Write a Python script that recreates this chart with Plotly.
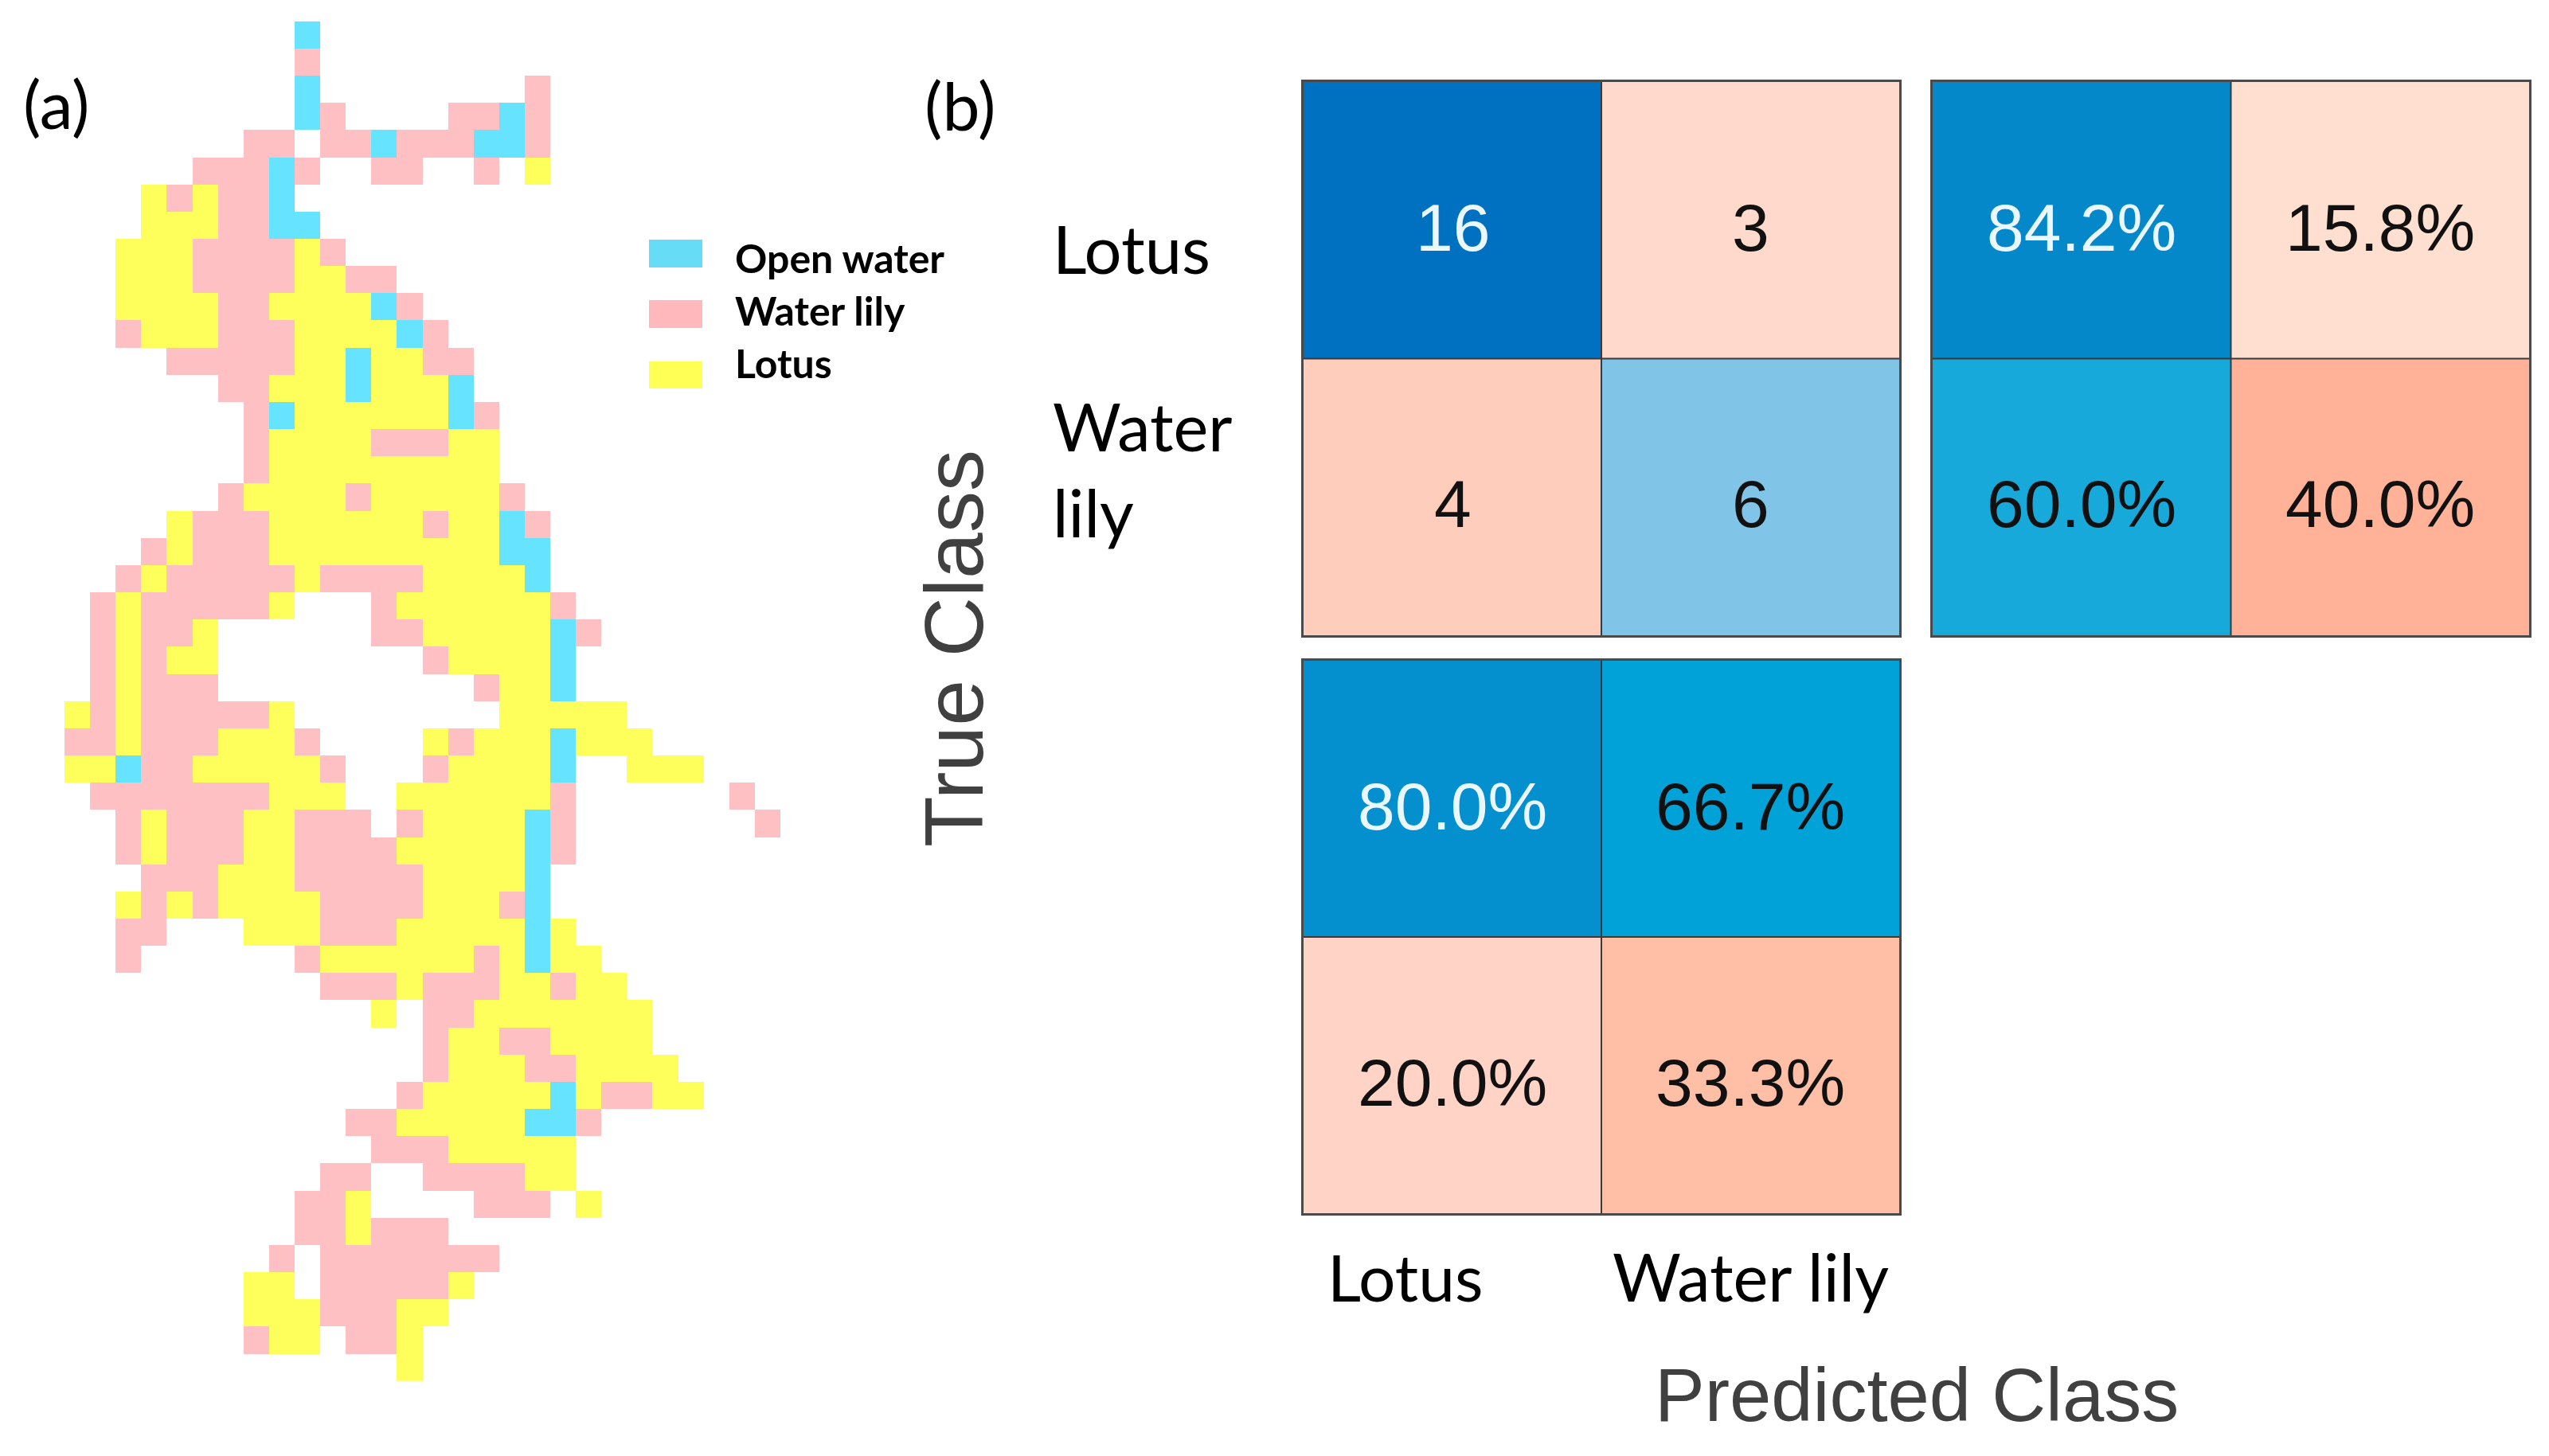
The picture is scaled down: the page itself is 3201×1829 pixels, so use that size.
import plotly.graph_objects as go

W, H = 3201, 1829

# map cells, one entry per row: O = open water, P = water lily, Y = lotus, numbers are columns
MAP_ROWS = [
    "O9", "P9", "O9 P18", "O9 P10 P15-16 O17 P18",
    "P7-8 P10-11 O12 P13-15 O16-17 P18",
    "P5-7 O8 P9 P12-13 P16 Y18",
    "Y3 P4 Y5 P6-7 O8",
    "Y3-5 P6-7 O8-9",
    "Y2-4 P5-8 Y9 P10",
    "Y2-4 P5-8 Y9-10 P11-12",
    "Y2-5 P6-7 Y8-11 O12 P13",
    "P2 Y3-5 P6-8 Y9-12 O13 P14",
    "P4-8 Y9-10 O11 Y12-13 P14-15",
    "P6-7 Y8-10 O11 Y12-14 O15",
    "P7 O8 Y9-14 O15 P16",
    "P7 Y8-11 P12-14 Y15-16",
    "P7 Y8-16",
    "P6 Y7-10 P11 Y12-16 P17",
    "Y4 P5-7 Y8-13 P14 Y15-16 O17 P18",
    "P3 Y4 P5-7 Y8-16 O17-18",
    "P2 Y3 P4-8 Y9 P10-13 Y14-17 O18",
    "P1 Y2 P3-7 Y8 P12 Y13-18 P19",
    "P1 Y2 P3-4 Y5 P12-13 Y14-18 O19 P20",
    "P1 Y2 P3 Y4-5 P14 Y15-18 O19",
    "P1 Y2 P3-5 P16 Y17-18 O19",
    "Y0 P1 Y2 P3-7 Y8 Y17-21",
    "P0-1 Y2 P3-5 Y6-8 P9 Y14 P15 Y16-18 O19 Y20-22",
    "Y0-1 O2 P3-4 Y5-9 P10 P14 Y15-18 O19 Y22-24",
    "P1-7 Y8-10 Y13-18 P19 P26",
    "P2 Y3 P4-6 Y7-8 P9-11 P13 Y14-17 O18 P19 P27",
    "P2 Y3 P4-6 Y7-8 P9-12 Y13-17 O18 P19",
    "P3-5 Y6-8 P9-13 Y14-17 O18",
    "Y2 P3 Y4 P5 Y6-9 P10-13 Y14-16 P17 O18",
    "P2-3 Y7-9 P10-12 Y13-17 O18 Y19",
    "P2 P9 Y10-15 P16 Y17 O18 Y19-20",
    "P10-12 Y13 P14-16 Y17-18 P19 Y20-21",
    "Y12 P14-15 Y16-22",
    "P14 Y15-16 P17-18 Y19-22",
    "P14 Y15-17 P18-19 Y20-23",
    "P13 Y14-18 O19 Y20 P21-22 Y23-24",
    "P11-12 Y13-17 O18-19 P20",
    "P12-14 Y15-19",
    "P10-11 P14-17 Y18-19",
    "P9-10 Y11 P16-18 Y20",
    "P9-10 Y11 P12-14",
    "P8 P10-16",
    "Y7-8 P10-14 Y15",
    "Y7-9 P10-12 Y13-14",
    "P7 Y8-9 P11-12 Y13",
    "Y13",
]
N_COLS = 28
CODES = {"O": 0, "P": 1, "Y": 2}
LEGEND_LABELS = ["Open water", "Water lily", "Lotus"]
LEGEND_COLORS = ["#66DCF6", "#FFB8BC", "#FFFF55"]
MAP_COLORS = ["#66E3FF", "#FFC0C4", "#FFFF5C"]

CLASSES = ["Lotus", "Water lily"]
COUNTS = [[16, 3], [4, 6]]
COUNT_COLORS = [[3, "#FFD9CC"], [4, "#FFCDBC"], [6, "#80C5E8"], [16, "#0070C0"]]
ROW_PCT = [[84.2, 15.8], [60.0, 40.0]]
ROW_COLORS = [[15.8, "#FFDFD0"], [40.0, "#FFB298"], [60.0, "#17A9DA"], [84.2, "#0488CA"]]
COL_PCT = [[80.0, 66.7], [20.0, 33.3]]
COL_COLORS = [[20.0, "#FFD3C6"], [33.3, "#FFBEA6"], [66.7, "#00A2D8"], [80.0, "#0490CF"]]
WHITE_TEXT = [16, 84.2, 80.0]


def px(x):
    return x / W


def py(y):
    return 1 - y / H


def parse_row(row):
    cells = [None] * N_COLS
    for run in row.split():
        code = CODES[run[0]]
        parts = run[1:].split("-")
        for c in range(int(parts[0]), int(parts[-1]) + 1):
            cells[c] = code
    return cells


def scale_from(pairs):
    # colorscale that hits each cell's colour exactly
    lo, hi = pairs[0][0], pairs[-1][0]
    return [[(v - lo) / (hi - lo), c] for v, c in pairs]


fig = go.Figure()

z_map = [parse_row(r) for r in MAP_ROWS]
fig.add_trace(go.Heatmap(
    z=z_map, zmin=0, zmax=2, showscale=False, xaxis="x", yaxis="y",
    colorscale=[[0, MAP_COLORS[0]], [0.5, MAP_COLORS[1]], [1, MAP_COLORS[2]]],
    hoverinfo="skip",
))

panels = [
    ("x2", "y2", COUNTS, COUNT_COLORS, "{:d}"),
    ("x3", "y3", ROW_PCT, ROW_COLORS, "{:.1f}%"),
    ("x4", "y4", COL_PCT, COL_COLORS, "{:.1f}%"),
]
shapes = []
annotations = []
for xa, ya, values, colors, fmt in panels:
    fig.add_trace(go.Heatmap(
        z=values, x=[0, 1], y=[0, 1], xaxis=xa, yaxis=ya, showscale=False,
        zmin=colors[0][0], zmax=colors[-1][0], colorscale=scale_from(colors),
    ))
    for i, row in enumerate(values):
        for j, v in enumerate(row):
            annotations.append(dict(
                text=fmt.format(v), x=j, y=i, xref=xa, yref=ya, showarrow=False, yshift=-9,
                font=dict(family="Liberation Sans", size=84,
                          color="#EAF7FD" if v in WHITE_TEXT else "#111111"),
            ))
    shapes.append(dict(type="line", xref=xa, yref=ya, x0=0.5, x1=0.5, y0=-0.5, y1=1.5,
                       line=dict(color="#3A3A3A", width=2)))
    shapes.append(dict(type="line", xref=xa, yref=ya, x0=-0.5, x1=1.5, y0=0.5, y1=0.5,
                       line=dict(color="#3A3A3A", width=2)))

# legend patches
for color, (top, bottom) in zip(LEGEND_COLORS, [(301, 336), (377, 412), (454, 488)]):
    shapes.append(dict(type="rect", xref="paper", yref="paper", x0=px(815), x1=px(882),
                       y0=py(bottom), y1=py(top), fillcolor=color, line=dict(width=0)))


def label(text, x, y, size, family="Lato", color="black", xanchor="left", textangle=0, bold=False):
    if bold:
        text = "<b>" + text + "</b>"
    annotations.append(dict(
        text=text, x=px(x), y=py(y), xref="paper", yref="paper", showarrow=False,
        xanchor=xanchor, yanchor="middle", align="left", textangle=textangle,
        font=dict(family=family, size=size, color=color), borderpad=0, borderwidth=0,
    ))


label("(a)", 29, 129, 84)
label("(b)", 1161, 132, 84)
for text, y in zip(LEGEND_LABELS, [324, 390, 456]):
    label(text, 923, y, 50, bold=True)
label("Lotus", 1322, 312, 83)
label("Water<br>lily", 1322, 589, 83)
label(CLASSES[0], 1667, 1603, 82)
label(CLASSES[1], 2025, 1603, 83)
label("True Class", 1198, 815, 104, family="Liberation Sans", color="#404040",
      xanchor="center", textangle=-90)
label("Predicted Class", 2407, 1752, 94, family="Liberation Sans", color="#404040",
      xanchor="center")

fig.update_layout(
    width=W, height=H, autosize=False, margin=dict(l=0, r=0, t=0, b=0),
    paper_bgcolor="white", plot_bgcolor="white", showlegend=False,
    shapes=shapes, annotations=annotations,
)


def hidden_axis(x0, x1, rng, lines=True):
    return dict(domain=[x0, x1], range=rng, showgrid=False, zeroline=False, ticks="",
                showticklabels=False, showline=lines, mirror=lines,
                linecolor="#4A4A4A", linewidth=3, constrain="domain")


fig.update_layout(
    xaxis=dict(anchor="y", **hidden_axis(px(81), px(980), [-0.5, N_COLS - 0.5], lines=False)),
    yaxis=dict(anchor="x", **hidden_axis(py(1735), py(26.7), [len(MAP_ROWS) - 0.5, -0.5], lines=False)),
    xaxis2=dict(anchor="y2", **hidden_axis(px(1637), px(2385), [-0.5, 1.5])),
    yaxis2=dict(anchor="x2", **hidden_axis(py(798), py(103), [1.5, -0.5])),
    xaxis3=dict(anchor="y3", **hidden_axis(px(2427), px(3176), [-0.5, 1.5])),
    yaxis3=dict(anchor="x3", **hidden_axis(py(798), py(103), [1.5, -0.5])),
    xaxis4=dict(anchor="y4", **hidden_axis(px(1637), px(2385), [-0.5, 1.5])),
    yaxis4=dict(anchor="x4", **hidden_axis(py(1524), py(830), [1.5, -0.5])),
)

fig.write_html("out.html", config={"displayModeBar": False},
               post_script="document.body.style.margin='0';")
